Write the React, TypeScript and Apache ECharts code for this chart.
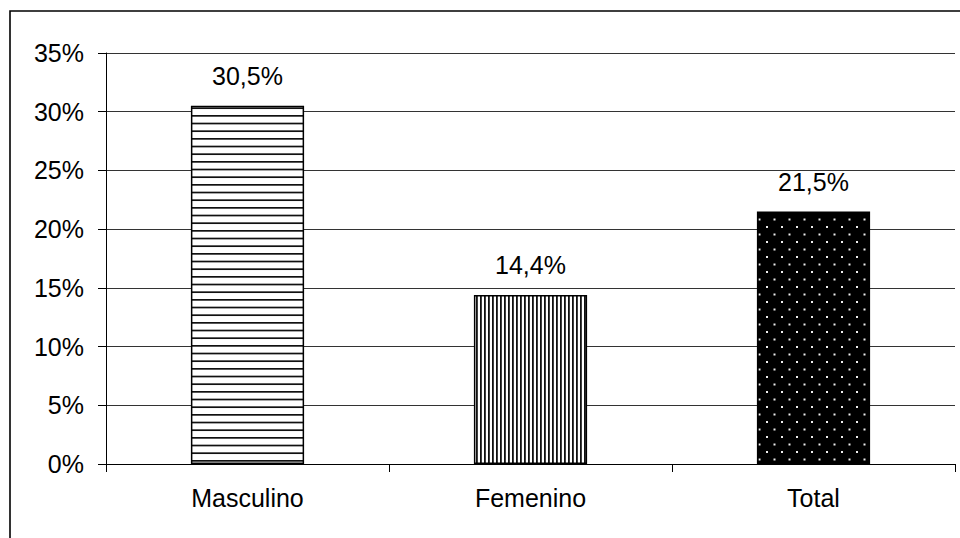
import React, { useEffect, useRef } from "react";
import * as echarts from "echarts";

const categories = ["Masculino", "Femenino", "Total"];
const values = [30.5, 14.4, 21.5];
const yTicks = { min: 0, max: 35, interval: 5 };

function makeCanvas(w: number, h: number, draw: (ctx: CanvasRenderingContext2D) => void) {
  const c = document.createElement("canvas");
  c.width = w;
  c.height = h;
  const ctx = c.getContext("2d")!;
  draw(ctx);
  return c.toDataURL();
}

export default function App() {
  const ref = useRef<HTMLDivElement>(null);
  useEffect(() => {
    document.body.style.margin = "0";
    if (!ref.current) return;
    const chart = echarts.init(ref.current, undefined, { renderer: "svg" });

    const hLines = makeCanvas(4, 23, (ctx) => {
      ctx.fillStyle = "#fff";
      ctx.fillRect(0, 0, 4, 23);
      ctx.fillStyle = "#111";
      for (let k = 0; k < 3; k++) ctx.fillRect(0, (k * 23) / 3, 4, 1.7);
    });
    const vLines = makeCanvas(4, 4, (ctx) => {
      ctx.fillStyle = "#fff";
      ctx.fillRect(0, 0, 4, 4);
      ctx.fillStyle = "#111";
      ctx.fillRect(0, 0, 1.8, 4);
    });
    const dots = makeCanvas(15, 15, (ctx) => {
      ctx.fillStyle = "#000";
      ctx.fillRect(0, 0, 15, 15);
      ctx.fillStyle = "#eee";
      ctx.fillRect(1, 1, 2, 2);
      ctx.fillRect(8.5, 8.5, 2, 2);
    });

    const patterns = [
      { image: hLines, repeat: "repeat", imageWidth: 4, imageHeight: 23 },
      { image: vLines, repeat: "repeat", imageWidth: 4, imageHeight: 4 },
      { image: dots, repeat: "repeat", imageWidth: 15, imageHeight: 15 },
    ];

    const font = "'Liberation Sans', Arial, sans-serif";

    chart.setOption({
      animation: false,
      backgroundColor: "#fff",
      textStyle: { fontFamily: font },
      grid: { left: 106, right: 5, top: 53, bottom: 74 },
      graphic: [
        {
          type: "rect",
          shape: { x: 10, y: 11, width: 1000, height: 600 },
          style: { fill: "none", stroke: "#000", lineWidth: 1.6 },
        },
      ],
      xAxis: {
        type: "category",
        data: categories,
        axisLine: { show: true, lineStyle: { color: "#000", width: 1 } },
        axisTick: { show: true, length: 8, lineStyle: { color: "#000" } },
        axisLabel: { color: "#000", fontSize: 25, fontFamily: font, margin: 21 },
      },
      yAxis: {
        type: "value",
        min: yTicks.min,
        max: yTicks.max,
        interval: yTicks.interval,
        axisLine: { show: true, lineStyle: { color: "#000", width: 1 } },
        axisTick: { show: true, length: 8, lineStyle: { color: "#000" } },
        axisLabel: {
          color: "#000",
          fontSize: 25,
          fontFamily: font,
          margin: 22,
          formatter: "{value}%",
        },
        splitLine: { show: true, lineStyle: { color: "#333", width: 1 } },
      },
      series: [
        {
          type: "bar",
          barWidth: "40%",
          data: values.map((v, i) => ({
            value: v,
            itemStyle: { color: patterns[i], borderColor: "#000", borderWidth: 1.5 },
          })),
          label: {
            show: true,
            position: "top",
            distance: 17,
            color: "#000",
            fontSize: 25,
            fontFamily: font,
            formatter: (p: any) => String(p.value).replace(".", ",") + "%",
          },
        },
      ],
    });
    return () => chart.dispose();
  }, []);
  return <div ref={ref} style={{ width: 960, height: 538 }} />;
}
